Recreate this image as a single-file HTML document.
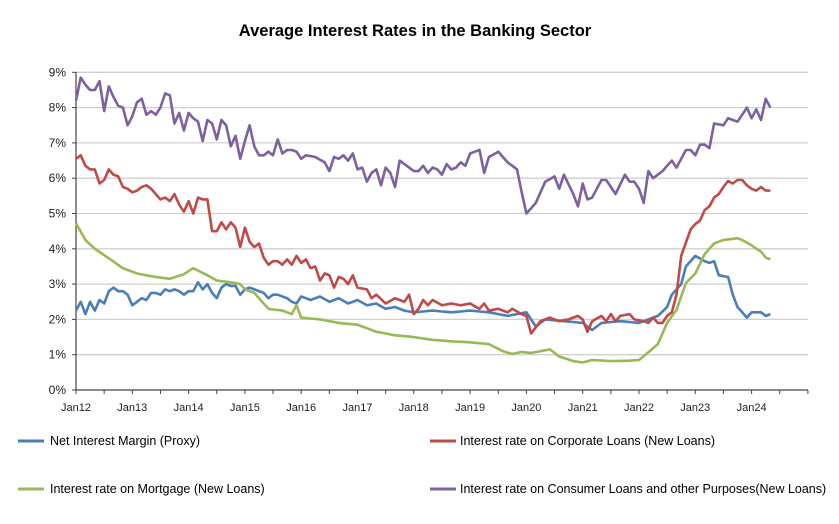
<!DOCTYPE html>
<html><head><meta charset="utf-8"><style>
body{margin:0;background:#fff;width:839px;height:519px;overflow:hidden;font-family:"Liberation Sans",Arial,sans-serif}
</style></head><body>
<svg id="s" width="839" height="519" xmlns="http://www.w3.org/2000/svg" font-family="Liberation Sans, Arial, sans-serif">
<text x="415" y="36" text-anchor="middle" font-size="16.5" font-weight="bold" fill="#000">Average Interest Rates in the Banking Sector</text>
<g id="grid"></g>
<g id="series" fill="none" stroke-width="2.6" stroke-linejoin="round"></g>
<g font-size="12.5" fill="#000">
<line x1="18" y1="441" x2="44" y2="441" stroke="#4a7ebb" stroke-width="3"/>
<text x="50" y="445">Net Interest Margin (Proxy)</text>
<line x1="430" y1="441" x2="456" y2="441" stroke="#be4b48" stroke-width="3"/>
<text x="460" y="445">Interest rate on Corporate Loans (New Loans)</text>
<line x1="18" y1="489" x2="44" y2="489" stroke="#98b954" stroke-width="3"/>
<text x="50" y="493">Interest rate on Mortgage (New Loans)</text>
<line x1="430" y1="489" x2="456" y2="489" stroke="#7d60a0" stroke-width="3"/>
<text x="460" y="493">Interest rate on Consumer Loans and other Purposes(New Loans)</text>
</g>
</svg>
<script>
var X0=76,MW=56.3/12,Y0=390,YU=35.3;
function px(m){return X0+m*MW} function py(v){return Y0-v*YU}
var g=document.getElementById('grid'),h='';
for(var i=0;i<=9;i++){var y=py(i);
 if(i>0)h+='<line x1="76" x2="808" y1="'+y+'" y2="'+y+'" stroke="#d0d0d0" stroke-width="1.3"/>';
 h+='<line x1="72" x2="76" y1="'+y+'" y2="'+y+'" stroke="#444"/>';
 h+='<text x="66" y="'+(y+4)+'" text-anchor="end" font-size="12" fill="#222">'+i+'%</text>';}
h+='<line x1="76" x2="76" y1="72" y2="390" stroke="#444" stroke-width="1.2"/>';
h+='<line x1="76" x2="808" y1="390" y2="390" stroke="#444" stroke-width="1.2"/>';
for(var k=0;k<=26;k++){var x=X0+k*28.15;h+='<line x1="'+x+'" x2="'+x+'" y1="390" y2="394" stroke="#444"/>';}
for(var yr=12;yr<=24;yr++){h+='<text x="'+(X0+(yr-12)*56.3)+'" y="411" text-anchor="middle" font-size="11" fill="#222">Jan'+yr+'</text>';}
g.innerHTML=h;
function build(kp,jit){var pts=[];for(var m=0;m<=148;m++){var j=0;while(j<kp.length-2&&kp[j+1][0]<=m)j++;
 var a=kp[j],b=kp[j+1],t=(m-a[0])/(b[0]-a[0]);if(t>1)t=1;var v=a[1]+(b[1]-a[1])*t;
 v+=jit*(Math.sin(m*2.3)*0.6+Math.sin(m*5.1+1)*0.4);pts.push(px(m).toFixed(1)+','+py(v).toFixed(1));}return pts.join(' ');}
var purple=[[0,8.2],[1,8.85],[2,8.65],[3,8.5],[4,8.5],[5,8.75],[6,7.9],[7,8.6],[8,8.3],[9,8.05],[10,8.0],[11,7.5],[12,7.75],[13,8.15],[14,8.25],[15,7.8],[16,7.9],[17,7.8],[18,8.0],[19,8.4],[20,8.35],[21,7.55],[22,7.85],[23,7.35],[24,7.85],[25,7.7],[26,7.6],[27,7.05],[28,7.65],[29,7.55],[30,7.1],[31,7.65],[32,7.5],[33,6.9],[34,7.2],[35,6.55],[36,7.05],[37,7.5],[38,6.9],[39,6.65],[40,6.65],[41,6.75],[42,6.65],[43,7.1],[44,6.7],[45,6.8],[46,6.8],[47,6.75],[48,6.55],[49,6.65],[51,6.6],[53,6.45],[54,6.2],[55,6.6],[56,6.55],[57,6.65],[58,6.5],[59,6.7],[60,6.25],[61,6.3],[62,5.9],[63,6.15],[64,6.25],[65,5.8],[66,6.3],[67,6.15],[68,5.75],[69,6.5],[70,6.4],[71,6.3],[72,6.2],[73,6.2],[74,6.35],[75,6.15],[76,6.3],[77,6.25],[78,6.1],[79,6.4],[80,6.25],[81,6.3],[82,6.45],[83,6.35],[84,6.7],[85,6.75],[86,6.8],[87,6.15],[88,6.6],[90,6.75],[92,6.45],[94,6.25],[95,5.6],[96,5.0],[98,5.3],[100,5.9],[102,6.05],[103,5.7],[104,6.1],[106,5.55],[107,5.2],[108,5.85],[109,5.4],[110,5.45],[112,5.95],[113,5.95],[115,5.55],[117,6.1],[118,5.9],[119,5.9],[120,5.7],[121,5.3],[122,6.2],[123,6.0],[125,6.2],[127,6.5],[128,6.3],[130,6.8],[131,6.8],[132,6.65],[133,6.95],[134,6.95],[135,6.85],[136,7.55],[138,7.5],[139,7.7],[140,7.65],[141,7.6],[142,7.8],[143,8.0],[144,7.7],[145,7.95],[146,7.65],[147,8.25],[148,8.0]];
var red=[[0,6.55],[1,6.65],[2,6.35],[3,6.25],[4,6.25],[5,5.85],[6,5.95],[7,6.25],[8,6.1],[9,6.05],[10,5.75],[11,5.7],[12,5.6],[13,5.65],[14,5.75],[15,5.8],[16,5.7],[17,5.55],[18,5.4],[19,5.45],[20,5.35],[21,5.55],[22,5.25],[23,5.05],[24,5.35],[25,5.0],[26,5.45],[27,5.4],[28,5.4],[29,4.5],[30,4.5],[31,4.75],[32,4.55],[33,4.75],[34,4.6],[35,4.05],[36,4.6],[37,4.2],[38,4.05],[39,4.15],[40,3.75],[41,3.55],[42,3.65],[43,3.65],[44,3.55],[45,3.7],[46,3.55],[47,3.8],[48,3.6],[49,3.7],[50,3.45],[51,3.5],[52,3.1],[53,3.3],[54,3.25],[55,2.9],[56,3.2],[57,3.15],[58,3.0],[59,3.25],[60,2.9],[62,2.85],[63,2.6],[64,2.7],[66,2.45],[68,2.6],[70,2.5],[71,2.7],[72,2.15],[73,2.3],[74,2.55],[75,2.4],[76,2.55],[78,2.4],[80,2.45],[82,2.4],[84,2.45],[86,2.3],[87,2.45],[88,2.25],[90,2.3],[92,2.2],[93,2.3],[95,2.15],[96,2.1],[97,1.6],[99,1.95],[101,2.05],[103,1.95],[105,2.0],[107,2.1],[108,2.0],[109,1.65],[110,1.95],[112,2.1],[113,1.95],[114,2.15],[115,1.95],[116,2.1],[118,2.15],[119,2.0],[121,1.95],[122,1.9],[123,2.05],[124,1.9],[125,1.9],[126,2.1],[127,2.2],[128,2.7],[129,3.8],[131,4.55],[132,4.7],[133,4.8],[134,5.1],[135,5.2],[136,5.45],[137,5.55],[138,5.75],[139,5.92],[140,5.85],[141,5.95],[142,5.95],[143,5.8],[144,5.7],[145,5.65],[146,5.75],[147,5.65],[148,5.65]];
var green=[[0,4.72],[2,4.25],[4,4.0],[7,3.73],[10,3.45],[13,3.3],[17,3.2],[20,3.15],[23,3.28],[25,3.45],[28,3.25],[30,3.1],[33,3.05],[35,3.0],[36,2.85],[38,2.75],[40,2.45],[41,2.3],[44,2.25],[46,2.15],[47,2.4],[48,2.05],[52,2.0],[56,1.9],[60,1.85],[64,1.65],[68,1.55],[72,1.5],[76,1.42],[80,1.38],[84,1.35],[88,1.3],[91,1.1],[93,1.02],[95,1.08],[97,1.05],[99,1.1],[101,1.15],[103,0.95],[106,0.82],[108,0.78],[110,0.85],[114,0.82],[118,0.83],[120,0.85],[122,1.07],[124,1.3],[126,1.9],[128,2.27],[130,3.03],[132,3.3],[134,3.85],[136,4.15],[138,4.25],[141,4.3],[142,4.25],[144,4.1],[145,4.0],[146,3.92],[147,3.75],[148,3.7]];
var blue=[[0,2.25],[1,2.5],[2,2.15],[3,2.5],[4,2.25],[5,2.55],[6,2.45],[7,2.8],[8,2.9],[9,2.8],[10,2.8],[11,2.7],[12,2.4],[13,2.5],[14,2.6],[15,2.55],[16,2.75],[17,2.75],[18,2.7],[19,2.85],[20,2.8],[21,2.85],[22,2.8],[23,2.7],[24,2.8],[25,2.8],[26,3.05],[27,2.85],[28,3.0],[29,2.75],[30,2.6],[31,2.9],[32,3.0],[33,2.95],[34,2.95],[35,2.7],[36,2.85],[37,2.9],[38,2.85],[39,2.8],[40,2.75],[41,2.6],[42,2.7],[43,2.7],[44,2.65],[45,2.6],[46,2.5],[47,2.45],[48,2.65],[50,2.55],[52,2.65],[54,2.5],[56,2.6],[58,2.45],[60,2.55],[62,2.4],[64,2.45],[66,2.3],[68,2.35],[70,2.25],[72,2.2],[76,2.25],[80,2.2],[84,2.25],[88,2.2],[92,2.1],[96,2.2],[98,1.8],[100,2.0],[104,1.95],[108,1.9],[110,1.7],[112,1.9],[116,1.95],[120,1.9],[122,2.0],[124,2.1],[126,2.35],[127,2.7],[129,3.0],[130,3.5],[132,3.8],[134,3.65],[135,3.6],[136,3.65],[137,3.25],[139,3.2],[140,2.7],[141,2.35],[142,2.2],[143,2.05],[144,2.2],[146,2.2],[147,2.1],[148,2.15]];
var s='';
[[blue,'#4a7ebb'],[red,'#be4b48'],[green,'#98b954'],[purple,'#7d60a0']].forEach(function(d){
 s+='<polyline points="'+build(d[0],0)+'" stroke="'+d[1]+'"/>';});
document.getElementById('series').innerHTML=s;
</script>
</body></html>
